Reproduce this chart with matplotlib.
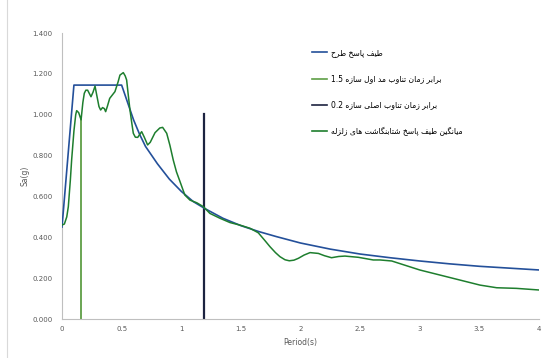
import matplotlib
matplotlib.use("Agg")
import matplotlib.pyplot as plt
from matplotlib.lines import Line2D

# ---------------- data ----------------
design_T = [0, 0.1, 0.5, 0.55, 0.6, 0.65, 0.7, 0.8, 0.9, 1.0, 1.1, 1.2, 1.35, 1.5,
            1.65, 1.8, 2.0, 2.25, 2.5, 2.75, 3.0, 3.25, 3.5, 3.75, 4.0]
design_Sa = [0.45, 1.145, 1.145, 1.06, 0.975, 0.905, 0.845, 0.76, 0.685, 0.625, 0.575,
             0.54, 0.493, 0.457, 0.428, 0.403, 0.372, 0.342, 0.318, 0.300, 0.284,
             0.270, 0.258, 0.249, 0.240]

avg_T = [0, 0.02, 0.04, 0.053, 0.07, 0.081, 0.1, 0.115, 0.123, 0.14, 0.16, 0.175,
         0.187, 0.2, 0.215, 0.243, 0.26, 0.277, 0.29, 0.31, 0.324, 0.34, 0.355,
         0.366, 0.38, 0.40, 0.444, 0.47, 0.486, 0.514, 0.53, 0.542, 0.555, 0.57,
         0.585, 0.598, 0.615, 0.635, 0.668, 0.69, 0.718, 0.74, 0.78, 0.82, 0.844,
         0.878, 0.905, 0.933, 0.96, 0.99, 1.03, 1.073, 1.13, 1.185, 1.24, 1.325,
         1.409, 1.49, 1.577, 1.646, 1.70, 1.744, 1.79, 1.828, 1.87, 1.906, 1.945,
         1.982, 2.03, 2.08, 2.15, 2.2, 2.26, 2.32, 2.373, 2.485, 2.61, 2.667,
         2.765, 3.0, 3.28, 3.505, 3.645, 3.81, 4.0]
avg_Sa = [0.46, 0.465, 0.50, 0.55, 0.68, 0.78, 0.92, 1.00, 1.02, 1.01, 0.975, 1.06,
          1.105, 1.12, 1.12, 1.088, 1.11, 1.14, 1.10, 1.04, 1.023, 1.035, 1.03,
          1.015, 1.04, 1.08, 1.113, 1.16, 1.194, 1.206, 1.19, 1.17, 1.10, 1.023,
          0.96, 0.909, 0.89, 0.889, 0.917, 0.89, 0.852, 0.865, 0.912, 0.935, 0.938,
          0.909, 0.85, 0.778, 0.72, 0.672, 0.607, 0.582, 0.569, 0.55, 0.517, 0.493,
          0.472, 0.46, 0.444, 0.422, 0.385, 0.354, 0.325, 0.305, 0.29, 0.285, 0.288,
          0.297, 0.313, 0.325, 0.321, 0.31, 0.30, 0.306, 0.308, 0.302, 0.289, 0.289,
          0.284, 0.24, 0.199, 0.166, 0.153, 0.15, 0.142]

line15_T = [0.16, 0.16]
line15_Sa = [0.0, 0.975]
line02_T = [1.19, 1.19]
line02_Sa = [0.0, 1.003]

x_ticks = [0, 0.5, 1, 1.5, 2, 2.5, 3, 3.5, 4]
x_tick_labels = ["0", "0.5", "1", "1.5", "2", "2.5", "3", "3.5", "4"]
y_ticks = [0, 0.2, 0.4, 0.6, 0.8, 1.0, 1.2, 1.4]
y_tick_labels = ["0.000", "0.200", "0.400", "0.600", "0.800", "1.000", "1.200", "1.400"]

labels = ["طیف پاسخ طرح",
          "1.5 برابر زمان تناوب مد اول سازه",
          "0.2 برابر زمان تناوب اصلی سازه",
          "میانگین طیف پاسخ شتابنگاشت های زلزله"]

# ------------- minimal Arabic/Persian shaping -------------
FORMS = {
    'ا': (0xFE8D, 0xFE8E, None, None),
    'ب': (0xFE8F, 0xFE90, 0xFE91, 0xFE92),
    'پ': (0xFB56, 0xFB57, 0xFB58, 0xFB59),
    'ت': (0xFE95, 0xFE96, 0xFE97, 0xFE98),
    'ح': (0xFEA1, 0xFEA2, 0xFEA3, 0xFEA4),
    'خ': (0xFEA5, 0xFEA6, 0xFEA7, 0xFEA8),
    'د': (0xFEA9, 0xFEAA, None, None),
    'ر': (0xFEAD, 0xFEAE, None, None),
    'ز': (0xFEAF, 0xFEB0, None, None),
    'س': (0xFEB1, 0xFEB2, 0xFEB3, 0xFEB4),
    'ش': (0xFEB5, 0xFEB6, 0xFEB7, 0xFEB8),
    'ص': (0xFEB9, 0xFEBA, 0xFEBB, 0xFEBC),
    'ط': (0xFEC1, 0xFEC2, 0xFEC3, 0xFEC4),
    'ف': (0xFED1, 0xFED2, 0xFED3, 0xFED4),
    'گ': (0xFB92, 0xFB93, 0xFB94, 0xFB95),
    'ل': (0xFEDD, 0xFEDE, 0xFEDF, 0xFEE0),
    'م': (0xFEE1, 0xFEE2, 0xFEE3, 0xFEE4),
    'ن': (0xFEE5, 0xFEE6, 0xFEE7, 0xFEE8),
    'و': (0xFEED, 0xFEEE, None, None),
    'ه': (0xFEE9, 0xFEEA, 0xFEEB, 0xFEEC),
    'ی': (0xFBFC, 0xFBFD, 0xFBFE, 0xFBFF),
}


def shape_rtl(s):
    out = []
    n = len(s)
    for i, ch in enumerate(s):
        if ch not in FORMS:
            out.append(ch)
            continue
        iso, fin, ini, med = FORMS[ch]
        prev = s[i - 1] if i > 0 else ''
        nxt = s[i + 1] if i + 1 < n else ''
        prev_joins = prev in FORMS and FORMS[prev][2] is not None
        next_joins = nxt in FORMS and ini is not None
        if prev_joins and next_joins:
            cp = med
        elif prev_joins:
            cp = fin
        elif next_joins:
            cp = ini
        else:
            cp = iso
        out.append(chr(cp))
    return ''.join(out)[::-1]


def visual(label):
    # leading LTR number (if any) stays on the left, Arabic run reversed
    idx = 0
    while idx < len(label) and label[idx] not in FORMS:
        idx += 1
    prefix = label[:idx]
    return prefix + shape_rtl(label[idx:])


# ---------------- figure ----------------
plt.rcParams['font.family'] = ['DejaVu Sans']
fig = plt.figure(figsize=(5.53, 3.58), dpi=100)
ax = fig.add_axes([62 / 553, 1 - 319 / 358, (539 - 62) / 553, (319 - 33) / 358])

c_design = '#24509A'
c_15 = '#5E9E45'
c_02 = '#1C2340'
c_avg = '#1E7E2E'

ax.plot(design_T, design_Sa, color=c_design, lw=1.2, zorder=3)
ax.plot(line15_T, line15_Sa, color=c_15, lw=1.3, zorder=2)
ax.plot(line02_T, line02_Sa, color=c_02, lw=1.6, zorder=2)
ax.plot(avg_T, avg_Sa, color=c_avg, lw=1.1, zorder=4)

ax.set_xlim(0, 4)
ax.set_ylim(0, 1.4)
ax.set_xticks(x_ticks)
ax.set_xticklabels(x_tick_labels)
ax.set_yticks(y_ticks)
ax.set_yticklabels(y_tick_labels)
ax.tick_params(axis='both', length=0, labelsize=5, labelcolor='#595959')
ax.tick_params(axis='y', pad=7)
ax.tick_params(axis='x', pad=5)
for side in ['top', 'right']:
    ax.spines[side].set_visible(False)
for side in ['left', 'bottom']:
    ax.spines[side].set_color('#BFBFBF')
    ax.spines[side].set_linewidth(0.8)

ax.set_xlabel('Period(s)', fontsize=5.5, color='#595959', labelpad=4)
ax.set_ylabel('Sa(g)', fontsize=5.5, color='#595959', labelpad=2)

handles = [Line2D([], [], color=c_design, lw=1.2),
           Line2D([], [], color=c_15, lw=1.2),
           Line2D([], [], color=c_02, lw=1.2),
           Line2D([], [], color=c_avg, lw=1.2)]
fig.legend(handles, [visual(l) for l in labels], loc='upper left',
           bbox_to_anchor=(312 / 553, 1 - 48 / 358), frameon=False,
           fontsize=5.5, handlelength=2.0, handletextpad=0.5,
           labelspacing=2.25, borderpad=0, borderaxespad=0)

# outer chart border (left edge visible in the reference)
fig.add_artist(Line2D([7 / 553, 7 / 553], [0, 1], transform=fig.transFigure,
                      color='#D9D9D9', lw=0.8))

fig.savefig('out.png', dpi=100)
